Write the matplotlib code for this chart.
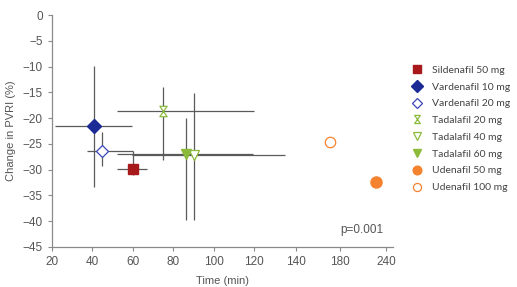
import matplotlib.pyplot as plt
import numpy as np
from matplotlib.path import Path
from matplotlib.scale import FuncScale

# --- data ---
drugs = ['Sildenafil 50 mg', 'Vardenafil 10 mg', 'Vardenafil 20 mg', 'Tadalafil 20 mg',
         'Tadalafil 40 mg', 'Tadalafil 60 mg', 'Udenafil 50 mg', 'Udenafil 100 mg']
time_min = [60, 41, 44.8, 74.8, 90.2, 86.3, 226.5, 171]
time_lo = [52.1, 21.8, 37.6, 52.4, 59.6, 52.1, None, None]
time_hi = [67.2, 59.8, 60.1, 119.8, 135.1, 119.3, None, None]
pvri = [-29.8, -21.6, -26.3, -18.6, -27.1, -26.9, -32.3, -24.6]
pvri_lo = [-31.1, -33.3, -29.2, -28.2, -39.7, -39.7, None, None]
pvri_hi = [-26.3, -9.9, -22.7, -13.9, -15.2, -19.9, None, None]

x_ticks = [20, 40, 60, 80, 100, 120, 140, 180, 240]
y_ticks = list(range(0, -50, -5))

# broken time axis: ticks evenly spaced but uneven steps after 120
brk_data = [0, 20, 120, 140, 180, 240, 300]
brk_pos = [-1, 0, 5, 6.02, 7.11, 8.25, 9.39]

def fwd(x):
    return np.interp(x, brk_data, brk_pos)

def inv(p):
    return np.interp(p, brk_pos, brk_data)

hourglass = Path([(-0.7, 1), (0.7, 1), (-0.7, -1), (0.7, -1), (-0.7, 1)],
                 [Path.MOVETO, Path.LINETO, Path.LINETO, Path.LINETO, Path.CLOSEPOLY])

navy = '#1b2a94'
green = '#8cbb3c'
orange = '#f5822f'
styles = [
    dict(marker='s', ms=7.5, mfc='#a8191c', mec='#a8191c'),
    dict(marker='D', ms=7.2, mfc=navy, mec=navy),
    dict(marker='D', ms=6.4, mfc='white', mec='#3a44b5', mew=0.9),
    dict(marker=hourglass, ms=7.5, mfc='white', mec=green, mew=0.9),
    dict(marker='v', ms=7.5, mfc='white', mec=green, mew=0.9),
    dict(marker='v', ms=7.5, mfc=green, mec=green),
    dict(marker='o', ms=8, mfc=orange, mec=orange),
    dict(marker='o', ms=7.5, mfc='white', mec=orange, mew=0.9),
]

plt.rcParams['font.family'] = 'Liberation Sans'
fig = plt.figure(figsize=(5.17, 2.87), dpi=100)
ax = fig.add_axes([0.1, 0.1394, 0.6607, 0.8083])
ax.set_xscale(FuncScale(ax.xaxis, (fwd, inv)))

grey = '#5a5a5a'
handles = []
for i in range(len(drugs)):
    if time_lo[i] is not None:
        xe = [[time_min[i] - time_lo[i]], [time_hi[i] - time_min[i]]]
        ye = [[pvri[i] - pvri_lo[i]], [pvri_hi[i] - pvri[i]]]
        ax.errorbar([time_min[i]], [pvri[i]], xerr=xe, yerr=ye, fmt='none',
                    ecolor=grey, elinewidth=0.9, capsize=0, zorder=2)
for i in range(len(drugs)):
    h, = ax.plot([time_min[i]], [pvri[i]], linestyle='none', label=drugs[i],
                 zorder=3, **styles[i])
    handles.append(h)

ax.set_xlim(20, 249.5)
ax.set_ylim(-45, 0)
ax.set_xticks(x_ticks)
ax.set_xticklabels([str(t) for t in x_ticks])
ax.set_yticks(y_ticks)
ax.tick_params(colors='#8a8a8a', labelcolor='#555555', labelsize=8.5, length=3, width=0.8)
for s in ['top', 'right']:
    ax.spines[s].set_visible(False)
for s in ['left', 'bottom']:
    ax.spines[s].set_color('#8a8a8a')
    ax.spines[s].set_linewidth(0.9)

ax.set_xlabel('Time (min)', fontsize=8, color='#555555', labelpad=6)
ax.set_ylabel('Change in PVRI (%)', fontsize=8, color='#555555', labelpad=5)
ax.text(209, -41.7, 'p=0.001', fontsize=8.5, color='#555555', ha='center', va='center')

leg = fig.legend(handles=handles, loc='upper left', bbox_to_anchor=(0.797, 0.772),
                 frameon=False, handlelength=1.0, handletextpad=0.9, markerscale=0.78,
                 labelspacing=0.72, borderpad=0, borderaxespad=0,
                 prop={'family': 'Lato', 'size': 7.5})
for t in leg.get_texts():
    t.set_color('#444444')

fig.savefig('out.png', dpi=100)
